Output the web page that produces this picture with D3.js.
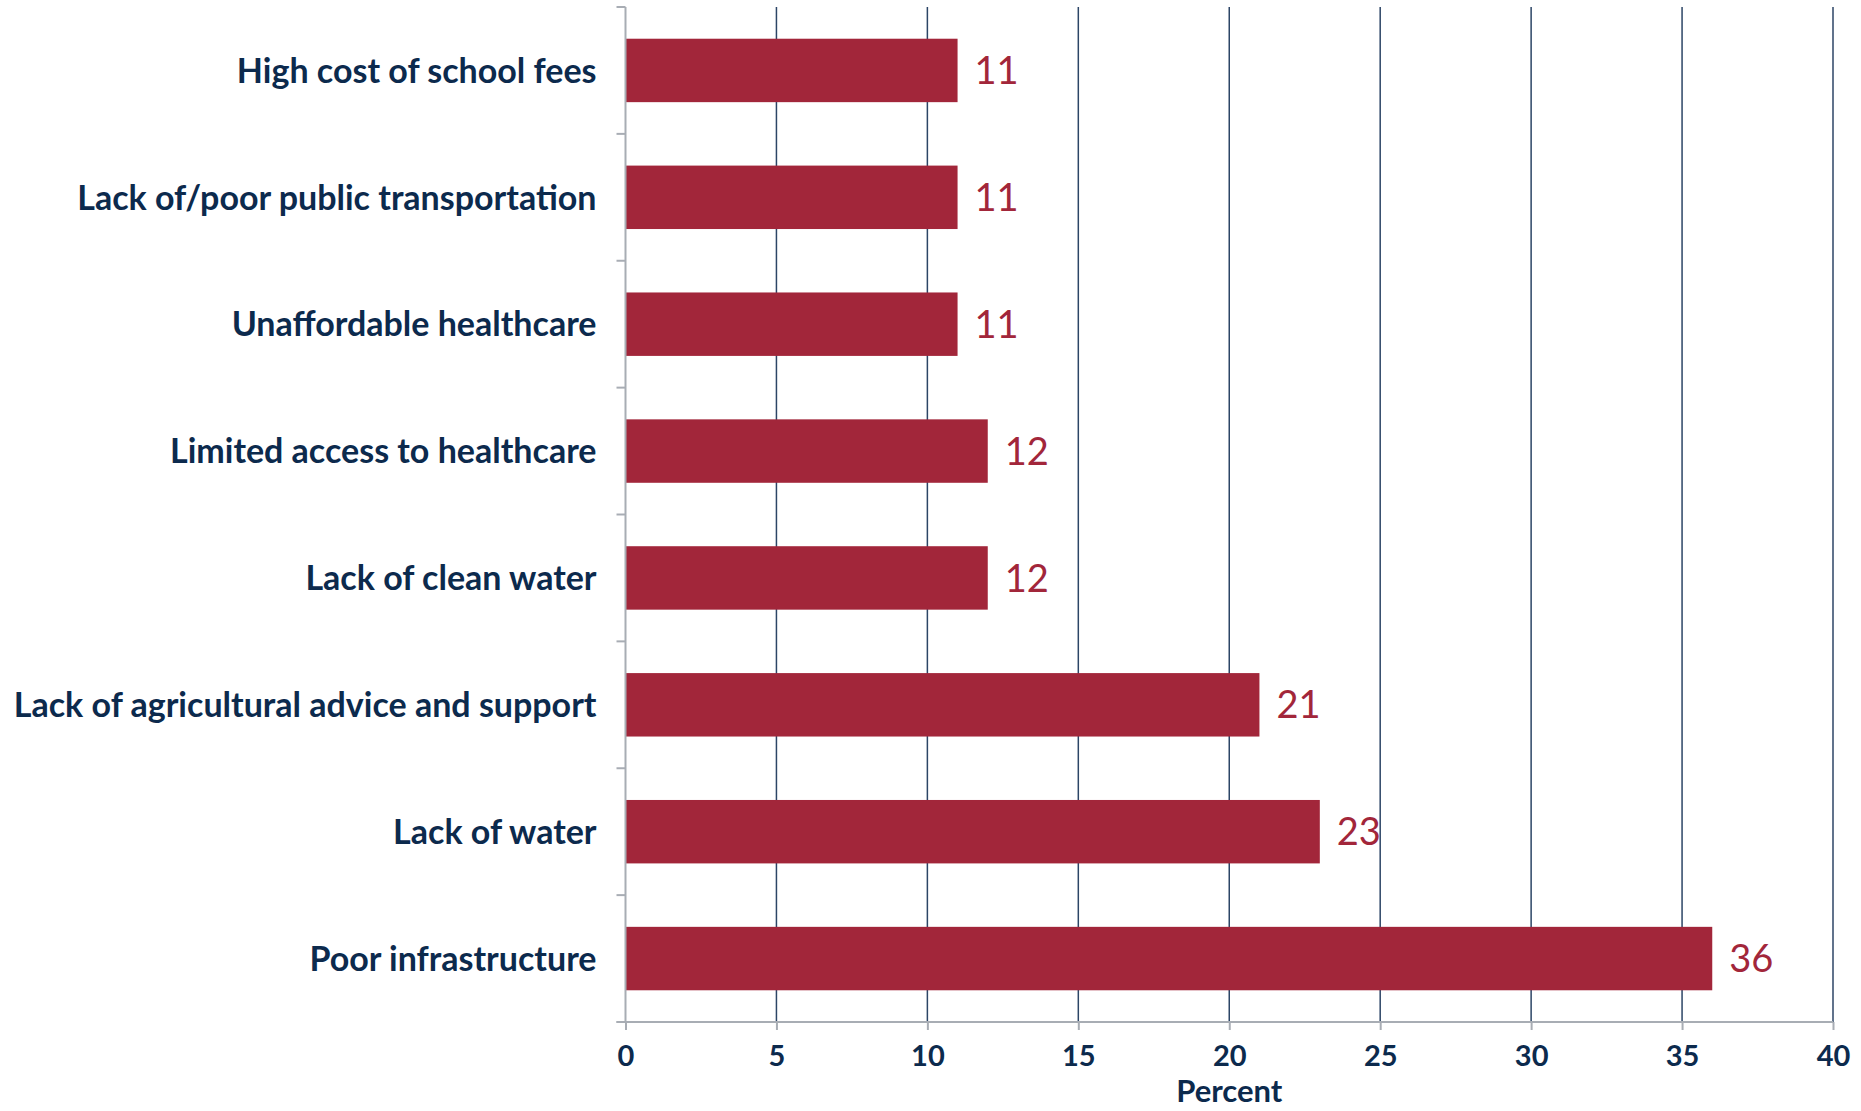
<!DOCTYPE html>
<html>
<head>
<meta charset="utf-8">
<script src="https://cdn.jsdelivr.net/npm/d3@7"></script>
<style>
  html, body { margin: 0; padding: 0; background: #ffffff; }
  svg { display: block; }
</style>
</head>
<body>
<svg id="chart" width="1861" height="1111"></svg>
<script>
// Reported constraints, top to bottom
const categories = [
  "High cost of school fees",
  "Lack of/poor public transportation",
  "Unaffordable healthcare",
  "Limited access to healthcare",
  "Lack of clean water",
  "Lack of agricultural advice and support",
  "Lack of water",
  "Poor infrastructure"
];
const percentValues = [11, 11, 11, 12, 12, 21, 23, 36];
const xTicks = [0, 5, 10, 15, 20, 25, 30, 35, 40];
const xAxisTitle = "Percent";

const W = 1861, H = 1111;
const margin = { top: 7, right: 28, bottom: 89, left: 625.5 };
const plotW = W - margin.left - margin.right;
const plotH = H - margin.top - margin.bottom;

const NAVY = "#0c2a4d";
const BAR = "#a2263a";
const GRID = "#2c4566";
const AXIS = "#a8adb4";
const FONT = "Lato, 'Open Sans', sans-serif";

const svg = d3.select("#chart");
const g = svg.append("g").attr("transform", `translate(${margin.left},${margin.top})`);

const x = d3.scaleLinear().domain([0, 40]).range([0, plotW]);
const y = d3.scaleBand().domain(categories).range([0, plotH]).paddingInner(0.5).paddingOuter(0.25);

// vertical gridlines
g.append("g")
  .selectAll("line")
  .data(xTicks.filter(t => t > 0))
  .join("line")
  .attr("x1", d => x(d)).attr("x2", d => x(d))
  .attr("y1", 0).attr("y2", plotH)
  .attr("stroke", GRID).attr("stroke-width", 1.5);

// bars
g.append("g")
  .selectAll("rect")
  .data(categories)
  .join("rect")
  .attr("x", 0)
  .attr("y", d => y(d))
  .attr("width", (d, i) => x(percentValues[i]))
  .attr("height", y.bandwidth())
  .attr("fill", BAR);

// value labels
g.append("g")
  .selectAll("text")
  .data(categories)
  .join("text")
  .attr("x", (d, i) => x(percentValues[i]) + 17)
  .attr("y", d => y(d) + y.bandwidth() / 2)
  .attr("dy", "0.36em")
  .attr("fill", BAR)
  .attr("font-family", FONT)
  .attr("font-size", 38)
  .text((d, i) => percentValues[i]);

// left axis: line, ticks at band boundaries, category labels
const step = y.step();
const boundaries = d3.range(categories.length + 1).map(i => i * step);
g.append("g")
  .selectAll("line")
  .data(boundaries)
  .join("line")
  .attr("x1", -9).attr("x2", 0)
  .attr("y1", d => d).attr("y2", d => d)
  .attr("stroke", AXIS).attr("stroke-width", 2);
g.append("line")
  .attr("x1", 0).attr("x2", 0).attr("y1", 0).attr("y2", plotH)
  .attr("stroke", AXIS).attr("stroke-width", 2);

g.append("g")
  .selectAll("text")
  .data(categories)
  .join("text")
  .attr("x", -29)
  .attr("y", d => y(d) + y.bandwidth() / 2)
  .attr("dy", "0.36em")
  .attr("text-anchor", "end")
  .attr("fill", NAVY)
  .attr("font-family", FONT)
  .attr("font-weight", "bold")
  .attr("font-size", 34)
  .text(d => d);

// bottom axis
const xAxis = g.append("g")
  .attr("transform", `translate(0,${plotH})`)
  .call(d3.axisBottom(x).tickValues(xTicks).tickSize(8).tickPadding(15).tickSizeOuter(0));
xAxis.select(".domain").attr("stroke", AXIS).attr("stroke-width", 2).attr("d", `M-9,0H${plotW}`);
xAxis.selectAll(".tick line").attr("stroke", AXIS).attr("stroke-width", 2);
xAxis.selectAll(".tick text")
  .attr("fill", NAVY)
  .attr("font-family", FONT)
  .attr("font-weight", "bold")
  .attr("font-size", 29);

g.append("text")
  .attr("x", x(20))
  .attr("y", plotH + 80)
  .attr("text-anchor", "middle")
  .attr("fill", NAVY)
  .attr("font-family", FONT)
  .attr("font-weight", "bold")
  .attr("font-size", 31)
  .text(xAxisTitle);
</script>
</body>
</html>
